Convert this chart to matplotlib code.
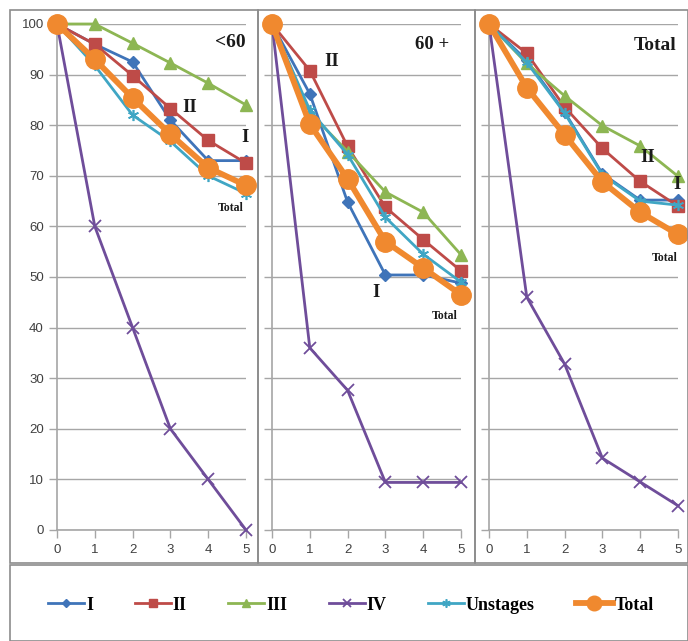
import matplotlib.pyplot as plt
from matplotlib.patches import Rectangle

# years after diagnosis
years = [0, 1, 2, 3, 4, 5]

# survival (%) by stage, age < 60
young_I = [100, 96, 92.5, 81, 73, 73]
young_II = [100, 96, 89.8, 83.3, 77, 72.5]
young_III = [100, 100, 96.2, 92.3, 88.3, 84]
young_IV = [100, 60, 40, 20, 10, 0]
young_unst = [100, 91.8, 82, 76.8, 70, 66.5]
young_total = [100, 93, 85.4, 78.2, 71.6, 68.1]

# age 60+
old_I = [100, 86.2, 64.8, 50.4, 50.4, 48.8]
old_II = [100, 90.8, 75.8, 63.8, 57.4, 51.2]
old_III = [100, 82.5, 74.8, 66.8, 62.8, 54.4]
old_IV = [100, 36, 27.6, 9.4, 9.4, 9.4]
old_unst = [100, 83, 74.2, 61.8, 54.5, 49]
old_total = [100, 80.2, 69.4, 57, 51.8, 46.5]

# all ages
all_I = [100, 92.8, 82.6, 70.4, 65.2, 65.2]
all_II = [100, 94.2, 83.6, 75.4, 68.9, 64]
all_III = [100, 92.2, 85.8, 79.9, 75.9, 69.9]
all_IV = [100, 46, 32.8, 14.2, 9.5, 4.8]
all_unst = [100, 92.4, 82.4, 70.2, 65, 64.2]
all_total = [100, 87.4, 78.1, 68.8, 62.8, 58.4]

series_names = ['I', 'II', 'III', 'IV', 'Unstages', 'Total']
panels = [
    [young_I, young_II, young_III, young_IV, young_unst, young_total],
    [old_I, old_II, old_III, old_IV, old_unst, old_total],
    [all_I, all_II, all_III, all_IV, all_unst, all_total],
]

styles = {
    'I': dict(color='#3F74B9', marker='D', ms=6, lw=2.0),
    'II': dict(color='#BE4B48', marker='s', ms=8, lw=2.0),
    'III': dict(color='#8DB653', marker='^', ms=8.5, lw=2.0),
    'IV': dict(color='#6F4D9A', marker='x', ms=8.5, lw=2.0, mew=1.3),
    'Unstages': dict(color='#40A6C4', marker=(6, 2, 0), ms=8, lw=2.0, mew=1.2),
    'Total': dict(color='#F0892F', marker='o', ms=14, lw=4.2),
}

W, H = 688, 641
fig = plt.figure(figsize=(W / 100, H / 100), dpi=100)
plt.rcParams['font.family'] = ['Liberation Sans', 'DejaVu Sans']

# outer frames (panel boxes and legend box)
frame_col = '#8C8C8C'
for x0, x1 in [(10, 258), (258, 475), (475, 688)]:
    fig.patches.append(Rectangle((x0 / W, 1 - 563 / H), (x1 - x0) / W, (563 - 10) / H,
                                 transform=fig.transFigure, fill=False,
                                 edgecolor=frame_col, lw=1.2))
fig.patches.append(Rectangle((10 / W, 0), (688 - 10) / W, (H - 565) / H,
                             transform=fig.transFigure, fill=False,
                             edgecolor=frame_col, lw=1.2))

x_left = [57, 272, 489]
x_span = 189
y_top, y_bot = 24, 530

axes = []
for p, data in enumerate(panels):
    ax = fig.add_axes([x_left[p] / W, 1 - y_bot / H, x_span / W, (y_bot - y_top) / H])
    for name, vals in zip(series_names, data):
        st = styles[name]
        ax.plot(years, vals, color=st['color'], marker=st['marker'], ms=st['ms'],
                lw=st['lw'], mew=st.get('mew', 1), label=name, clip_on=False,
                zorder=3)
    ax.set_xlim(0, 5)
    ax.set_ylim(0, 100)
    ax.set_xticks(years)
    ax.set_yticks(range(0, 101, 10))
    ax.grid(axis='y', color='#A6A6A6', lw=1.0)
    ax.set_axisbelow(True)
    for s in ['top', 'right']:
        ax.spines[s].set_visible(False)
    for s in ['left', 'bottom']:
        ax.spines[s].set_color('#A6A6A6')
        ax.spines[s].set_linewidth(1.2)
    ax.tick_params(colors='#A6A6A6', labelcolor='#404040', labelsize=9.5,
                   length=6, width=1.0)
    ax.tick_params(axis='x', pad=4)
    if p > 0:
        ax.set_yticklabels([])
    ax.patch.set_visible(False)
    axes.append(ax)

ann = dict(family=['Liberation Serif', 'DejaVu Serif'], fontweight='bold',
           ha='center', va='center', color='#1a1a1a')
# <60
axes[0].text(4.58, 96.4, '<60', fontsize=14, **ann)
axes[0].text(3.52, 83.4, 'II', fontsize=13.5, **ann)
axes[0].text(4.97, 77.5, 'I', fontsize=13.5, **ann)
axes[0].text(4.6, 63.6, 'Total', fontsize=8.5, **ann)
# 60+
axes[1].text(4.23, 96.0, '60 +', fontsize=13.5, **ann)
axes[1].text(1.59, 92.5, 'II', fontsize=13.5, **ann)
axes[1].text(2.75, 47.0, 'I', fontsize=13.5, **ann)
axes[1].text(4.58, 42.3, 'Total', fontsize=8.5, **ann)
# Total
axes[2].text(4.39, 95.8, 'Total', fontsize=14, **ann)
axes[2].text(4.21, 73.7, 'II', fontsize=13.5, **ann)
axes[2].text(4.97, 68.2, 'I', fontsize=13.5, **ann)
axes[2].text(4.66, 53.8, 'Total', fontsize=8.5, **ann)

handles, labels = axes[0].get_legend_handles_labels()
leg = fig.legend(handles, labels, loc='center', bbox_to_anchor=(0.51, 1 - 605 / H),
                 ncol=6, frameon=False, handlelength=2.0, columnspacing=2.3,
                 handletextpad=0.1,
                 prop=dict(family=['Liberation Serif', 'DejaVu Serif'],
                           weight='bold', size=13))
for h in leg.legend_handles:
    h.set_markersize(h.get_markersize() * 0.75)

fig.savefig('out.png', dpi=100)
